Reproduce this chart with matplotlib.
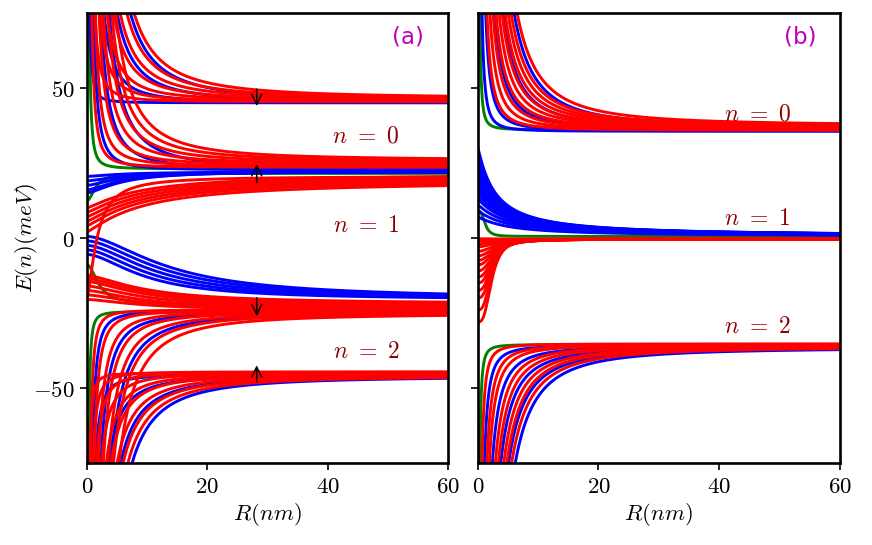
import numpy as np
import matplotlib
matplotlib.use('Agg')
import matplotlib.pyplot as plt

plt.rcParams['mathtext.fontset'] = 'cm'
plt.rcParams['font.family'] = 'DejaVu Sans'

## values
## edge fans: R (nm) where a curve leaves the frame, and its level at R = 60 nm
E_TOP, E_BOT = 75, -75

# panel (a)
a_n0_hi_red_edge = [1.3, 2.2, 3.3, 4.4, 5.5, 6.6, 7.8]
a_n0_hi_red_asym = [45.3, 45.5, 45.7, 45.9, 46.1, 46.3, 46.5]
a_n0_hi_blue_edge = [0.5, 2.8, 5.0, 7.2]
a_n0_hi_blue_asym = [45.0, 45.0, 45.2, 45.4]

a_n0_lo_red_edge = [0.8, 1.4, 2.0, 2.7, 3.4, 4.1, 4.8]
a_n0_lo_red_asym = [23.5, 23.9, 24.3, 24.7, 25.1, 25.5, 25.9]
a_n0_lo_blue_edge = [1.1, 2.3, 3.7]
a_n0_lo_blue_asym = [22.6, 22.8, 23.0]
a_n0_lo_green_edge = [0.4]
a_n0_lo_green_asym = [23.0]

a_n1_lo_red_edge = [0.6, 1.2, 1.9, 2.7, 3.5, 4.4, 5.3]
a_n1_lo_red_asym = [-24.0, -24.2, -24.4, -24.6, -24.8, -25.0, -25.2]
a_n1_lo_blue_edge = [0.9, 2.3, 4.0]
a_n1_lo_blue_asym = [-24.3, -24.6, -24.9]
a_n1_lo_green_edge = [0.3]
a_n1_lo_green_asym = [-24.5]

a_n2_red_edge = [0.5, 1.0, 1.6, 2.4, 3.2, 4.0, 5.0, 6.0, 6.8]
a_n2_red_asym = [-45.0, -44.6, -44.8, -45.0, -45.2, -45.4, -45.6, -45.8, -46.0]
a_n2_blue_edge = [1.4, 3.6, 5.6, 7.5]
a_n2_blue_asym = [-45.5, -45.7, -45.9, -46.1]

# start levels: curves that begin at a finite energy near R = 0
a_n1_hi_red_start = [2.0, 4.0, 5.5, 7.0, 8.5, 10.0]
a_n1_hi_red_asym = [19.0, 19.5, 20.0, 20.5, 21.0, 21.5]
a_n1_hi_blue_start = [20.5, 19.0, 17.5, 16.0, 15.0]
a_n1_hi_blue_asym = [22.0, 22.0, 22.2, 22.2, 22.4]
a_n1_hi_green_start = [12.5]
a_n1_hi_green_asym = [21.5]
a_cross_red_start = [-20.0]
a_cross_red_asym = [20.5]

a_n1_mid_red_start = [-12.5, -13.5, -14.5, -16.0, -17.5, -19.0, -20.5]
a_n1_mid_red_asym = [-22.0, -22.5, -23.0, -23.5, -24.0, -24.0, -24.2]
a_n1_mid_blue_start = [0.5, -1.0, -2.5, -4.0, -5.5]
a_n1_mid_blue_asym = [-20.3, -20.3, -20.4, -20.5, -20.6]
a_n1_mid_green_start = [-9.0]
a_n1_mid_green_asym = [-22.0]

# panel (b)
b_n0_red_edge = [1.5, 2.0, 2.5, 3.0, 3.5, 4.0, 4.5, 5.0, 5.5, 6.5]
b_n0_red_asym = [35.8, 36.0, 36.2, 36.4, 36.6, 36.8, 37.0, 37.1, 37.2, 37.4]
b_n0_blue_edge = [0.7, 1.3, 2.8, 4.2, 6.0]
b_n0_blue_asym = [35.5, 35.7, 36.0, 36.3, 36.6]
b_n0_green_edge = [0.35]
b_n0_green_asym = [36.0]

b_n2_red_edge = [0.7, 1.5, 1.9, 2.9, 3.4, 4.3, 4.8, 5.6]
b_n2_red_asym = [-35.3, -35.5, -35.6, -35.8, -35.9, -36.1, -36.2, -36.4]
b_n2_blue_edge = [1.1, 2.4, 3.8, 5.1, 6.2]
b_n2_blue_asym = [-35.8, -36.0, -36.2, -36.4, -36.6]
b_n2_green_edge = [0.35]
b_n2_green_asym = [-35.5]

b_n1_blue_start = [30, 27.5, 25, 23, 21, 19, 17.5, 16, 14.5, 13, 11, 9, 7]
b_n1_blue_width = [2.8, 3.0, 3.2, 3.4, 3.6, 3.8, 4.0, 4.2, 4.4, 4.6, 4.8, 5.0, 5.2]
b_n1_red_start = [-0.3, -1, -2, -3, -4.5, -6, -7.5, -9, -11, -13, -15, -17.5, -20, -24, -28]
b_n1_red_width = [3.5, 3.5, 3.4, 3.3, 3.2, 3.1, 3.0, 2.9, 2.8, 2.7, 2.6, 2.5, 2.4, 2.3, 2.3]
b_n1_green_start = [9.0]

# labels
level_names = ['$n\\ =\\ 0$', '$n\\ =\\ 1$', '$n\\ =\\ 2$']
a_level_y = [34, 4.3, -37.6]
b_level_y = [41.6, 6.6, -29.4]
xticks = [0, 20, 40, 60]
yticks = [-50, 0, 50]

R = np.linspace(0.02, 60, 4000)
LW = 2.1


def from_edge(e_inf, r_edge, e_edge, p=1.8):
    e = e_inf + (e_edge - e_inf) * (r_edge / R) ** p
    return np.clip(e, -300, 300)


def from_start(e_inf, e0, rc, p):
    return e_inf + (e0 - e_inf) / (1 + (R / rc) ** p)


def edge_fan(ax, edges, asyms, e_edge, color, p=1.8):
    for r0, e_inf in zip(edges, asyms):
        ax.plot(R, from_edge(e_inf, r0, e_edge, p), color=color, lw=LW)


def start_fan(ax, starts, asyms, rcs, p, color):
    if np.isscalar(rcs):
        rcs = [rcs] * len(starts)
    if np.isscalar(p):
        p = [p] * len(starts)
    for e0, e_inf, rc, pp in zip(starts, asyms, rcs, p):
        ax.plot(R, from_start(e_inf, e0, rc, pp), color=color, lw=LW)


fig = plt.figure(figsize=(8.72, 5.45), dpi=100)
ax1 = fig.add_axes([0.0998, 0.1505, 0.414, 0.826])
ax2 = fig.add_axes([0.548, 0.1505, 0.415, 0.826])

## panel (a)
edge_fan(ax1, a_n0_lo_green_edge, a_n0_lo_green_asym, E_TOP, 'green')
edge_fan(ax1, a_n1_lo_green_edge, a_n1_lo_green_asym, E_BOT, 'green')
start_fan(ax1, a_n1_hi_green_start, a_n1_hi_green_asym, 1.5, 2, 'green')
start_fan(ax1, a_n1_mid_green_start, a_n1_mid_green_asym, 2.0, 2, 'green')

edge_fan(ax1, a_n0_hi_blue_edge, a_n0_hi_blue_asym, E_TOP, 'blue')
edge_fan(ax1, a_n0_lo_blue_edge, a_n0_lo_blue_asym, E_TOP, 'blue')
edge_fan(ax1, a_n1_lo_blue_edge, a_n1_lo_blue_asym, E_BOT, 'blue')
edge_fan(ax1, a_n2_blue_edge, a_n2_blue_asym, E_BOT, 'blue')
start_fan(ax1, a_n1_hi_blue_start, a_n1_hi_blue_asym, 6, 1.5, 'blue')
start_fan(ax1, a_n1_mid_blue_start, a_n1_mid_blue_asym, [14, 13, 12, 11, 10], 1.7, 'blue')

edge_fan(ax1, a_n0_hi_red_edge, a_n0_hi_red_asym, E_TOP, 'red')
edge_fan(ax1, a_n0_lo_red_edge, a_n0_lo_red_asym, E_TOP, 'red')
edge_fan(ax1, a_n1_lo_red_edge, a_n1_lo_red_asym, E_BOT, 'red')
edge_fan(ax1, a_n2_red_edge, a_n2_red_asym, E_BOT, 'red')
start_fan(ax1, a_n1_hi_red_start, a_n1_hi_red_asym, 9, 1.2, 'red')
start_fan(ax1, a_cross_red_start, a_cross_red_asym, 1.7, 1.5, 'red')
start_fan(ax1, a_n1_mid_red_start, a_n1_mid_red_asym, 10, 1.5, 'red')

# spin arrows
for y0, y1 in [(50.5, 43.0), (17.5, 25.5), (-19.0, -27.0), (-49.0, -41.5)]:
    ax1.annotate('', xy=(28.2, y1), xytext=(28.2, y0),
                 arrowprops=dict(arrowstyle='->', color='k', lw=1.1, mutation_scale=18))

## panel (b)
edge_fan(ax2, b_n0_green_edge, b_n0_green_asym, E_TOP, 'green')
edge_fan(ax2, b_n2_green_edge, b_n2_green_asym, E_BOT, 'green')
start_fan(ax2, b_n1_green_start, [0.5], 1.2, 3, 'green')

edge_fan(ax2, b_n0_blue_edge, b_n0_blue_asym, E_TOP, 'blue')
edge_fan(ax2, b_n2_blue_edge, b_n2_blue_asym, E_BOT, 'blue')
start_fan(ax2, b_n1_blue_start, [0.5] * len(b_n1_blue_start), b_n1_blue_width, 1.1, 'blue')

edge_fan(ax2, b_n0_red_edge, b_n0_red_asym, E_TOP, 'red')
edge_fan(ax2, b_n2_red_edge, b_n2_red_asym, E_BOT, 'red')
start_fan(ax2, b_n1_red_start, [-0.4] * len(b_n1_red_start), b_n1_red_width,
          list(np.linspace(1.5, 3.0, len(b_n1_red_start))), 'red')

for ax, tag, ly in [(ax1, '(a)', a_level_y), (ax2, '(b)', b_level_y)]:
    ax.set_xlim(0, 60)
    ax.set_ylim(-75, 75)
    ax.set_xticks(xticks, labels=[f'${v}$' for v in xticks])
    ax.set_yticks(yticks, labels=[f'${v}$' for v in yticks])
    ax.tick_params(labelsize=16.5, width=1.2, length=5, pad=4)
    for s in ax.spines.values():
        s.set_linewidth(1.9)
    ax.set_xlabel('$R(nm)$', fontsize=16.5, labelpad=2)
    ax.text(53.4, 67, tag, color='m', fontsize=16.5, ha='center', va='center')
    for name, y in zip(level_names, ly):
        ax.text(46.4, y, name, color='darkred', fontsize=17, ha='center', va='center')

ax1.set_ylabel('$E(n)(meV)$', fontsize=16.5)
ax1.yaxis.set_label_coords(-0.13, 0.5)
ax2.tick_params(labelleft=False)

plt.savefig('out.png', dpi=100)
